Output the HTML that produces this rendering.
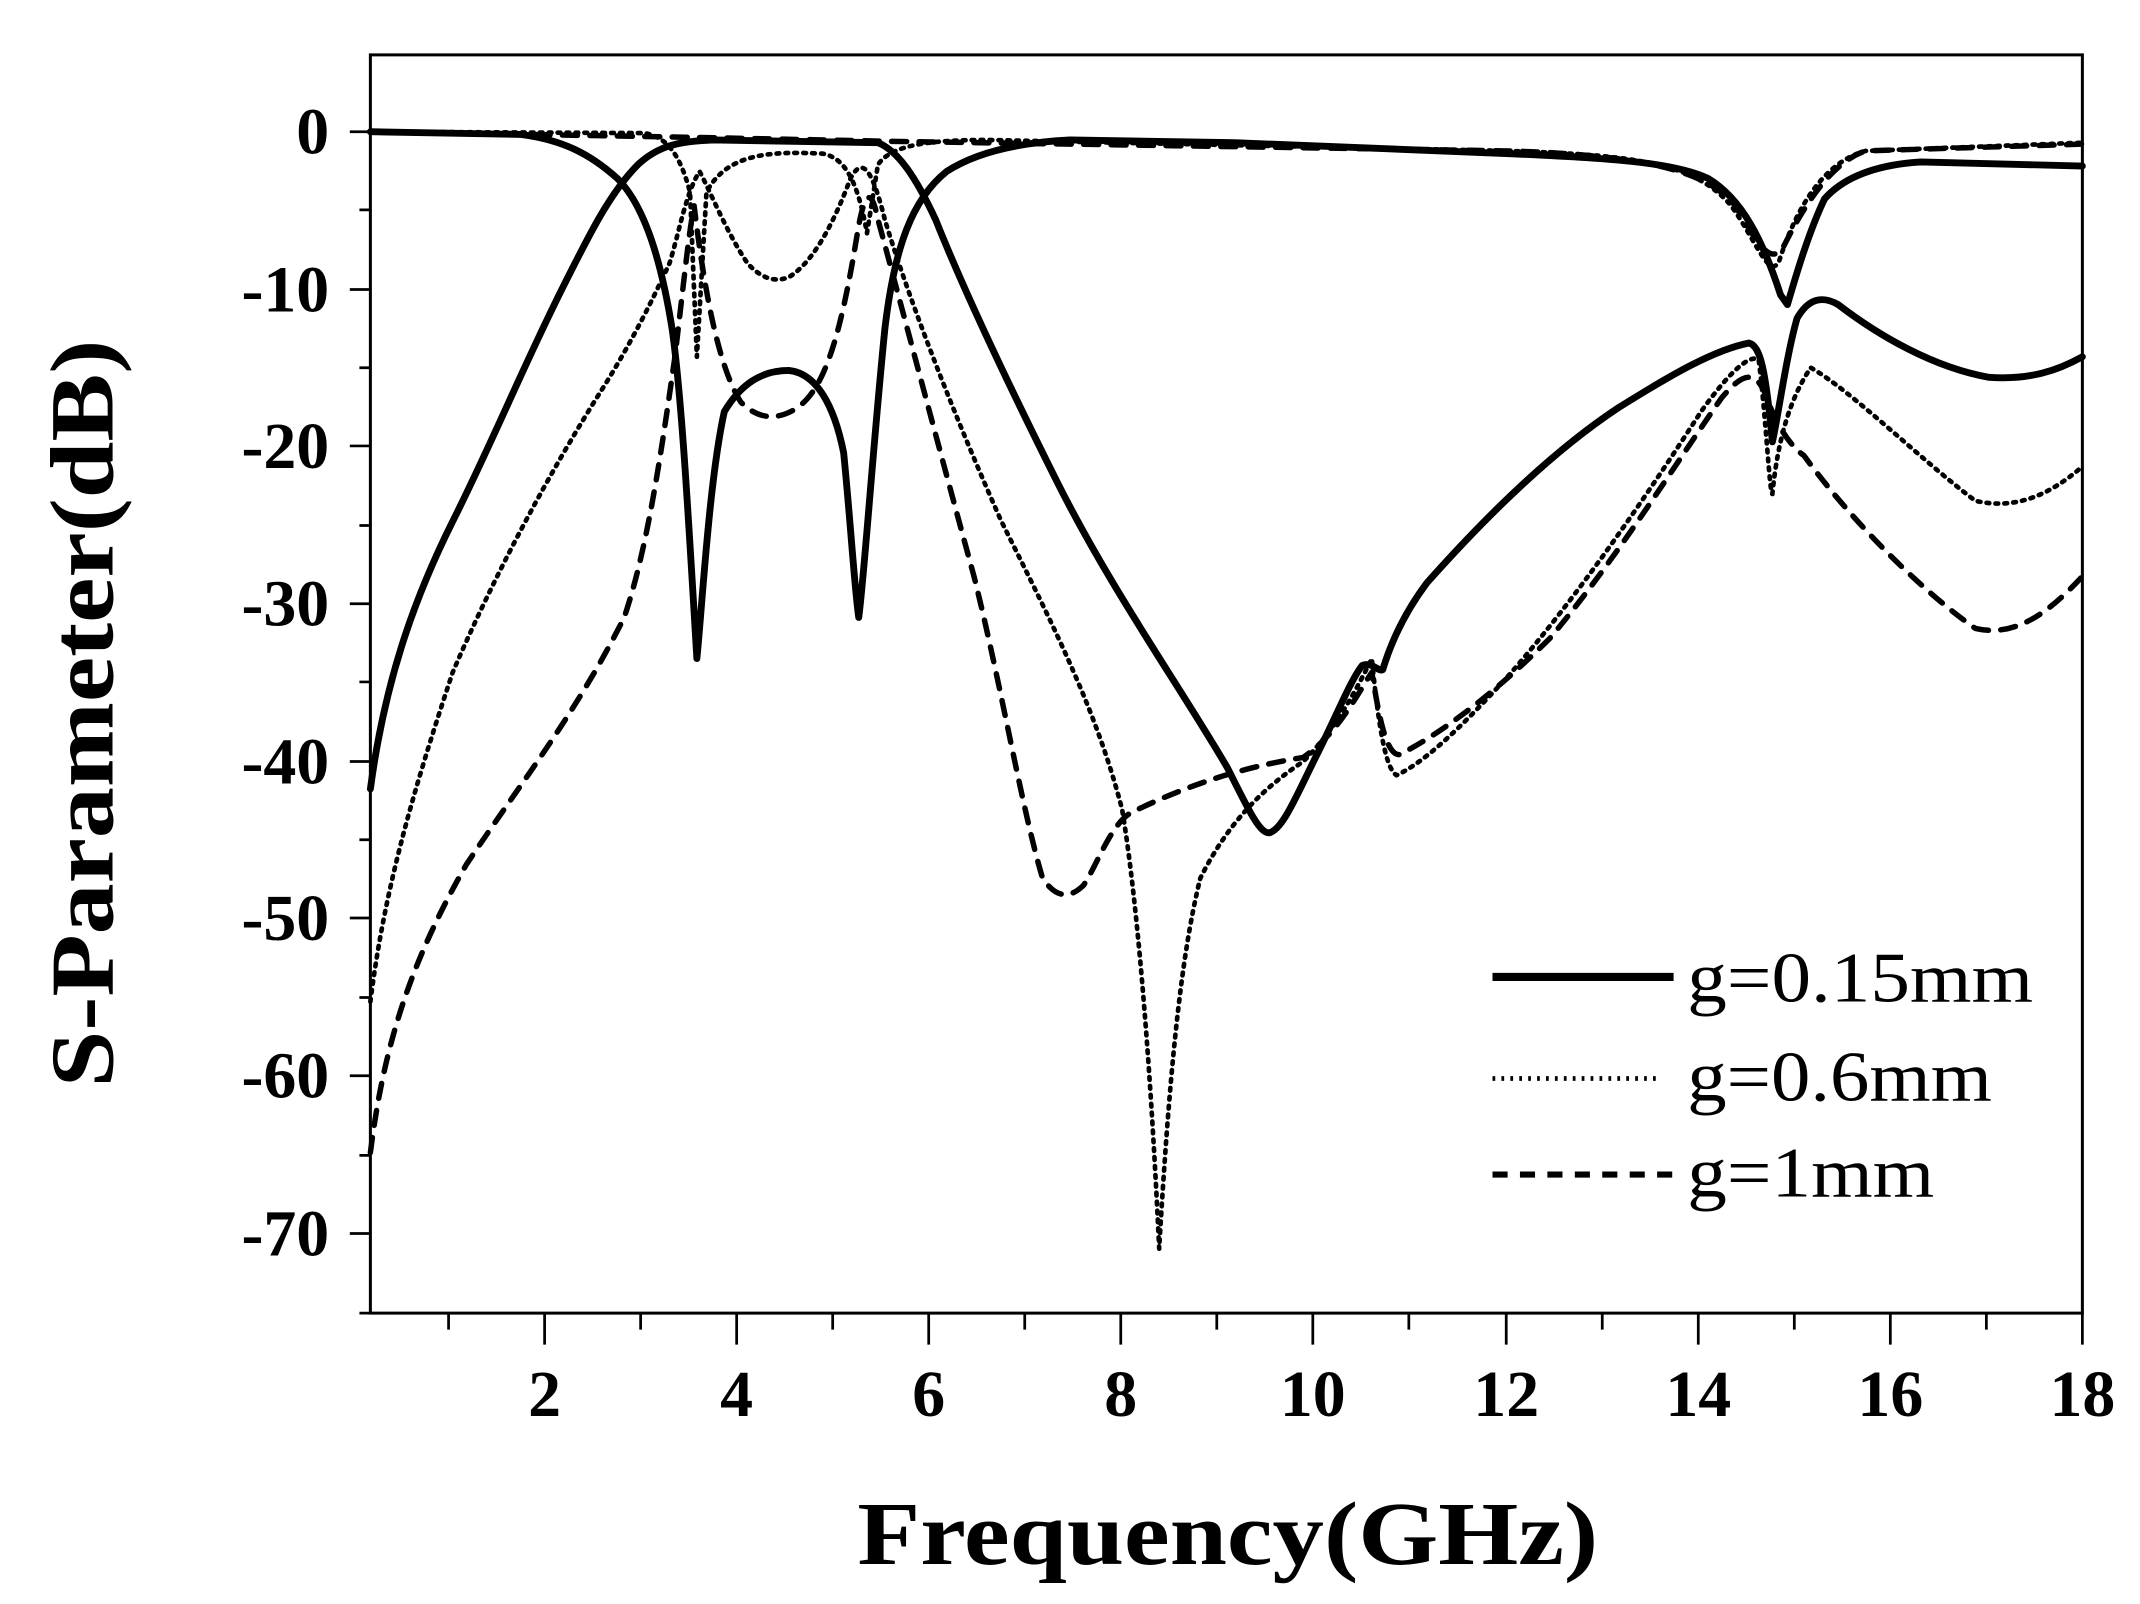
<!DOCTYPE html>
<html><head><meta charset="utf-8"><style>
html,body{margin:0;padding:0;background:#fff;}
svg{display:block;}
text{font-family:"Liberation Serif",serif;fill:#000;}
</style></head><body>
<svg width="2140" height="1604" viewBox="0 0 1560 1169" preserveAspectRatio="none" xmlns="http://www.w3.org/2000/svg">
<rect x="0" y="0" width="1560" height="1169" fill="#fff"/>
<path d="M270,40 H1518 V957 H270 Z" fill="none" stroke="#000" stroke-width="2.2"/>
<g stroke="#000" stroke-width="2">
<path d="M255,96H270M255,211H270M255,325H270M255,440H270M255,555H270M255,669H270M255,784H270M255,899H270"/>
<path d="M262,153H270M262,268H270M262,383H270M262,497H270M262,612H270M262,727H270M262,842H270M262,957H270"/>
<path d="M397,957V980M537,957V980M677,957V980M817,957V980M957,957V980M1098,957V980M1238,957V980M1378,957V980M1518,957V980"/>
<path d="M327,957V969M467,957V969M607,957V969M747,957V969M887,957V969M1027,957V969M1168,957V969M1308,957V969M1448,957V969"/>
</g>
<g font-weight="bold" font-size="48" text-anchor="end">
<text x="240" y="112">0</text>
<text x="240" y="227">-10</text>
<text x="240" y="341">-20</text>
<text x="240" y="456">-30</text>
<text x="240" y="571">-40</text>
<text x="240" y="685">-50</text>
<text x="240" y="800">-60</text>
<text x="240" y="915">-70</text>
</g>
<g font-weight="bold" font-size="48" text-anchor="middle">
<text x="397" y="1032">2</text><text x="537" y="1032">4</text><text x="677" y="1032">6</text>
<text x="817" y="1032">8</text><text x="957" y="1032">10</text><text x="1098" y="1032">12</text>
<text x="1238" y="1032">14</text><text x="1378" y="1032">16</text><text x="1518" y="1032">18</text>
</g>
<text x="895" y="1140" font-weight="bold" font-size="66" text-anchor="middle" textLength="540" lengthAdjust="spacingAndGlyphs">Frequency(GHz)</text>
<text transform="translate(82,520) rotate(-90)" font-weight="bold" font-size="66" text-anchor="middle" textLength="545" lengthAdjust="spacingAndGlyphs">S-Parameter(dB)</text>

<g fill="none" stroke="#000" stroke-linejoin="round" stroke-linecap="round">
<g stroke-width="5">
<path d="M270,575 C280,500 300,440 330,380 C360,320 380,270 410,210 C430,170 445,140 465,120 C480,106 495,103 520,102 L640,104 C655,110 668,130 682,160 C700,205 730,270 770,350 C810,430 860,500 895,560 C910,590 918,607 925,607 C935,605 945,580 960,550 C975,520 985,495 993,485 C1000,482 1005,490 1008,488 C1015,465 1025,445 1040,425 C1080,380 1130,330 1180,297 C1220,272 1250,255 1275,250 C1283,252 1287,268 1292,322 C1296,305 1302,260 1310,232 C1318,218 1328,215 1340,222 C1370,245 1410,268 1450,275 C1480,277 1500,270 1518,260"/>
<path d="M270,96 L380,98 C410,102 430,112 450,130 C470,150 482,190 490,240 C497,290 502,380 508,480 C512,440 517,350 528,300 C540,280 555,270 575,270 C595,272 608,295 615,330 C620,380 623,430 626,450 C630,420 636,330 645,240 C652,180 665,145 690,125 C710,112 740,104 780,102 L900,104 L1100,112 C1170,115 1220,118 1245,130 C1270,145 1285,175 1298,215 L1303,222 C1308,205 1318,170 1330,145 C1345,128 1370,120 1400,118 L1518,121"/>
</g>
<g stroke-width="3.4" stroke-dasharray="2 4.5">
<path d="M270,730 C280,650 300,580 330,490 C360,420 400,345 440,282 C460,250 475,220 488,192 C495,170 500,140 510,125 C518,140 530,170 545,192 C555,203 565,206 575,202 C590,193 605,170 620,130 C628,115 635,120 645,160 C660,210 690,290 730,380 C770,460 800,520 818,590 C828,650 838,760 845,910 C852,790 860,700 875,640 C895,600 920,575 950,555 C975,530 990,500 1000,480 C1005,530 1010,560 1018,565 C1040,555 1070,525 1100,492 C1150,435 1200,362 1240,300 C1260,272 1275,258 1282,262 C1287,300 1290,360 1292,360 C1296,320 1305,290 1320,268 C1350,285 1400,335 1440,365 C1470,372 1495,360 1518,340"/>
<path d="M270,96 L470,97 C485,100 495,110 503,140 L508,260 L515,140 C530,112 560,110 600,112 C615,115 625,130 632,170 L640,120 C650,105 680,102 720,102 L1100,110 C1190,113 1235,118 1262,150 C1280,175 1290,205 1297,190 C1310,150 1330,118 1360,110 L1518,104"/>
</g>
<g stroke-width="4" stroke-dasharray="11 9">
<path d="M270,840 C280,760 300,700 340,630 C380,570 420,520 455,450 C472,400 482,330 492,260 C498,210 502,170 506,150 C512,200 522,265 540,293 C552,305 565,307 580,298 C600,285 612,250 625,170 C630,140 635,135 640,160 C655,215 680,310 710,420 C730,500 745,590 760,640 C770,655 780,655 790,645 C800,630 810,600 825,592 C860,575 900,560 950,552 C975,535 990,505 1000,490 C1005,520 1010,550 1020,550 C1050,535 1090,505 1130,465 C1180,405 1220,340 1255,290 C1270,272 1280,268 1288,290 C1295,310 1305,325 1315,332 C1350,380 1400,430 1440,458 C1470,465 1495,445 1518,420"/>
<path d="M270,96 L500,100 L650,103 L1100,110 C1200,113 1245,125 1265,150 C1280,175 1290,195 1300,180 C1315,150 1335,118 1360,110 L1518,105"/>
</g>
</g>
<line x1="1088" y1="712" x2="1220" y2="712" stroke="#000" stroke-width="6"/>
<line x1="1088" y1="786" x2="1210" y2="786" stroke="#000" stroke-width="3.4" stroke-dasharray="2 4.5"/>
<line x1="1088" y1="856" x2="1220" y2="856" stroke="#000" stroke-width="4.5" stroke-dasharray="11 9"/>
<g font-size="52">
<text x="1230" y="730" textLength="252" lengthAdjust="spacingAndGlyphs">g=0.15mm</text>
<text x="1230" y="802" textLength="222" lengthAdjust="spacingAndGlyphs">g=0.6mm</text>
<text x="1230" y="872" textLength="180" lengthAdjust="spacingAndGlyphs">g=1mm</text>
</g>
</svg>
</body></html>
